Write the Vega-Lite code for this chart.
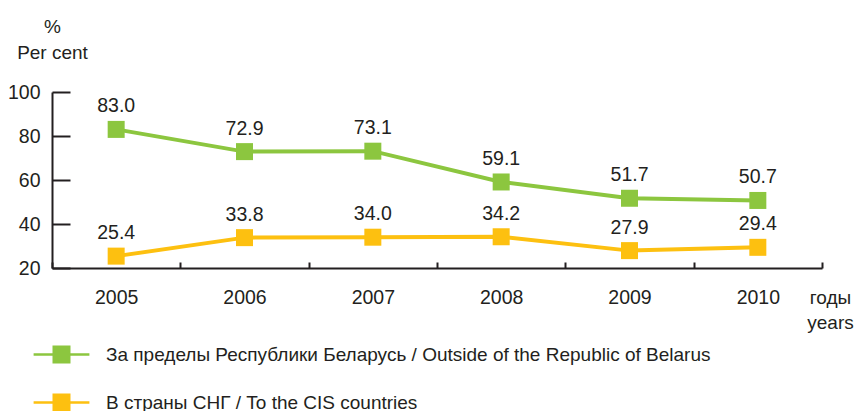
{
  "$schema": "https://vega.github.io/schema/vega-lite/v6.json",
  "width": 770,
  "height": 176,
  "autosize": "none",
  "padding": {"left": 52, "top": 92, "right": 32, "bottom": 143},
  "background": "white",
  "config": {
    "view": {"stroke": null},
    "font": "Liberation Sans",
    "axis": {"grid": false, "domainColor": "#231f20", "domainWidth": 2, "tickColor": "#231f20", "tickWidth": 2, "labelColor": "#231f20", "labelFontSize": 19.5, "labelFont": "Liberation Sans", "titleFont": "Liberation Sans", "titleFontSize": 19, "titleFontWeight": "normal", "titleColor": "#231f20"}
  },
  "data": {
    "values": [
      {"year": "2005", "series": "За пределы Республики Беларусь / Outside of the Republic of Belarus", "value": 83.0},
      {"year": "2006", "series": "За пределы Республики Беларусь / Outside of the Republic of Belarus", "value": 72.9},
      {"year": "2007", "series": "За пределы Республики Беларусь / Outside of the Republic of Belarus", "value": 73.1},
      {"year": "2008", "series": "За пределы Республики Беларусь / Outside of the Republic of Belarus", "value": 59.1},
      {"year": "2009", "series": "За пределы Республики Беларусь / Outside of the Republic of Belarus", "value": 51.7},
      {"year": "2010", "series": "За пределы Республики Беларусь / Outside of the Republic of Belarus", "value": 50.7},
      {"year": "2005", "series": "В страны СНГ / To the CIS countries", "value": 25.4},
      {"year": "2006", "series": "В страны СНГ / To the CIS countries", "value": 33.8},
      {"year": "2007", "series": "В страны СНГ / To the CIS countries", "value": 34.0},
      {"year": "2008", "series": "В страны СНГ / To the CIS countries", "value": 34.2},
      {"year": "2009", "series": "В страны СНГ / To the CIS countries", "value": 27.9},
      {"year": "2010", "series": "В страны СНГ / To the CIS countries", "value": 29.4}
    ]
  },
  "encoding": {
    "x": {
      "field": "year", "type": "ordinal", "bandPosition": 0.5,
      "scale": {"type": "band", "paddingInner": 0, "paddingOuter": 0},
      "axis": {"labelAngle": 0, "tickBand": "extent", "tickSize": -6, "labelPadding": 41, "labelBaseline": "alphabetic",
               "title": ["годы", "years"], "titleAngle": 0, "titleAlign": "center", "titleBaseline": "alphabetic", "titleX": 778, "titleY": 35, "titleLineHeight": 25}
    },
    "y": {
      "field": "value", "type": "quantitative",
      "scale": {"domain": [20, 100], "nice": false, "zero": false},
      "axis": {"values": [20, 40, 60, 80, 100], "tickSize": -18, "labelPadding": 30, "labelBaseline": "middle",
               "title": ["%", "Per cent"], "titleAngle": 0, "titleAlign": "center", "titleBaseline": "alphabetic", "titleX": 0, "titleY": -60, "titleLineHeight": 26}
    },
    "color": {
      "field": "series", "type": "nominal",
      "scale": {"domain": ["За пределы Республики Беларусь / Outside of the Republic of Belarus", "В страны СНГ / To the CIS countries"], "range": ["#8cc63f", "#fdc010"]},
      "legend": {
        "orient": "none", "legendX": 0, "legendY": 253, "title": null, "direction": "vertical", "padding": 0,
        "symbolType": "M-3.1,-0.14H-1V-1H1V-0.14H3.1V0.14H1V1H-1V0.14H-3.1Z",
        "symbolSize": 324, "symbolStrokeWidth": 0, "symbolOpacity": 1,
        "labelFontSize": 19, "labelFont": "Liberation Sans", "labelColor": "#231f20", "labelOffset": 35, "labelLimit": 900, "rowPadding": 28,
        "encode": {"symbols": {"update": {"fill": {"scale": "color", "field": "value"}, "stroke": {"value": "transparent"}, "opacity": {"value": 1}}}}
      }
    }
  },
  "layer": [
    {"mark": {"type": "line", "strokeWidth": 4}},
    {"mark": {"type": "point", "shape": "square", "size": 289, "filled": true, "opacity": 1}},
    {"mark": {"type": "text", "dy": -17, "baseline": "alphabetic", "fontSize": 19.5, "color": "#231f20", "font": "Liberation Sans"},
     "encoding": {"text": {"field": "value", "type": "quantitative", "format": ".1f"}, "color": {"value": "#231f20"}}}
  ]
}
